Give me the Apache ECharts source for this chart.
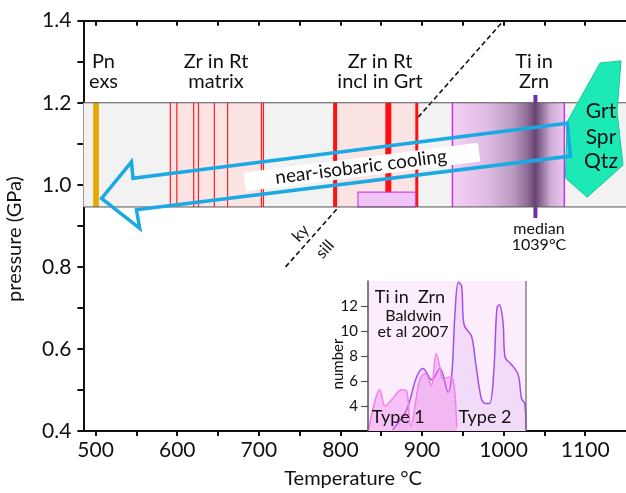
<!DOCTYPE html>
<html><head><meta charset="utf-8">
<script src="https://cdn.jsdelivr.net/npm/echarts@6/dist/echarts.min.js"></script>
<style>html,body{margin:0;padding:0;background:#fff}#c{width:626px;height:493px}</style>
</head><body><div id="c"></div>
<script>
// ---------- data ----------
const xTickValues = [500,550,600,650,700,750,800,850,900,950,1000,1050,1100];
const xLabelValues = [500,600,700,800,900,1000,1100];
const yTickValues = [0.4,0.5,0.6,0.7,0.8,0.9,1.0,1.1,1.2,1.3,1.4];
const yLabelValues = [0.4,0.6,0.8,1.0,1.2,1.4];
const bandP = [0.946, 1.2];
const pnExsT = [497, 504];
const zrMatrixT = [591, 708];
const zrMatrixLinesT = [591.5, 599.5, 620.2, 626, 645.5, 661.7, 703.2, 705.6];
const zrInclT = [793, 894];
const zrInclLinesT = [793.5, 858.7, 893.6];
const inclBoxT = [821.5, 892];
const inclBoxP = [0.946, 0.982];
const tiZrnT = [937.3, 1074.4];
const medianT = 1039;
const medianP = [0.919, 1.219];
const kySillT = [732.8, 1000];
const kySillP = [0.80, 1.40];
const grtSprQtzT = [1118.3, 1143.9, 1139, 1146.3, 1102.4, 1075.6, 1078];
const grtSprQtzP = [1.297, 1.302, 1.178, 1.048, 0.970, 1.017, 1.154];
const arrowT = [507.3, 543.9, 545.8, 1078, 1082, 550, 554];
const arrowP = [0.967, 1.056, 1.016, 1.150, 1.070, 0.939, 0.894];
const type1T = [833, 846.5, 852.6, 860.8, 873, 879, 884, 895, 902, 909, 915, 919.6, 923.6, 929.7, 935.8, 940];
const type1N = [2.2, 5.3, 4.0, 4.5, 5.3, 5.2, 2.4, 6.1, 6.6, 5.6, 8.2, 7.1, 6.1, 6.3, 6.1, 2.3];
const type2T = [862, 879, 891, 899, 909.5, 919.6, 929.5, 934, 938, 942, 946, 949, 958, 963, 970, 975, 980, 985, 989, 992, 996.5, 999, 1007, 1015, 1019, 1023, 1024.5];
const type2N = [2.1, 3.7, 6.3, 7.0, 6.1, 7.0, 5.1, 6.5, 11.5, 13.9, 13.6, 10.5, 9.6, 7.5, 4.6, 4.2, 4.2, 6.5, 11.8, 12.1, 10.7, 7.9, 7.3, 6.5, 4.6, 4.2, 2.1];
const insetTicks = [4, 6, 8, 10, 12];
const insetRangeT = [831.9, 1024.5];
const insetRangeN = [2, 14];

// ---------- styles ----------
const FONT = 'Lato';
const TXT = '#111';
const inclLineWidths = [4, 6, 3];

const chart = echarts.init(document.getElementById('c'), null, {renderer: 'canvas'});

function rectShape(api, x0, x1, y0, y1) {
  const a = api.coord([x0, y1]), b = api.coord([x1, y0]);
  return {x: a[0], y: a[1], width: b[0] - a[0], height: b[1] - a[1]};
}
function rectSeries(name, x0, x1, y0, y1, style, z, xi, yi) {
  return {
    type: 'custom', name, z, xAxisIndex: xi || 0, yAxisIndex: yi || 0,
    data: [[x0, y0, x1, y1]], encode: {x: [0, 2], y: [1, 3]},
    renderItem: (p, api) => ({type: 'rect', shape: rectShape(api, x0, x1, y0, y1), style})
  };
}
function vlineSeries(name, ts, y0, y1, color, widths, z) {
  return {
    type: 'custom', name, z,
    data: ts.map(t => [t, y0, y1]), encode: {x: 0, y: [1, 2]},
    renderItem: (p, api) => {
      const a = api.coord([api.value(0), api.value(1)]);
      const b = api.coord([api.value(0), api.value(2)]);
      const w = Array.isArray(widths) ? widths[p.dataIndex] : widths;
      return {type: 'line', shape: {x1: a[0], y1: a[1], x2: b[0], y2: b[1]}, style: {stroke: color, lineWidth: w}};
    }
  };
}
function polySeries(name, ts, ps, style, z) {
  return {
    type: 'custom', name, z,
    data: ts.map((t, i) => [t, ps[i]]), encode: {x: 0, y: 1},
    renderItem: (p, api) => {
      if (p.dataIndex !== 0) return null;
      const pts = ts.map((t, i) => api.coord([t, ps[i]]));
      return {type: 'polygon', shape: {points: pts}, style};
    }
  };
}

const gradient = new echarts.graphic.LinearGradient(0, 0, 1, 0, [
  {offset: 0, color: '#f5d0f7'},
  {offset: 0.31, color: '#dfbce3'},
  {offset: 0.55, color: '#b898be'},
  {offset: 0.67, color: '#8e6c96'},
  {offset: 0.74, color: '#684474'},
  {offset: 0.81, color: '#9a7aa2'},
  {offset: 0.88, color: '#d0add6'},
  {offset: 1, color: '#ecc6f0'}
]);

function txt(text, x, y, size, extra) {
  return Object.assign({
    type: 'text', x, y, z: 100,
    style: {text, x: 0, y: 0, fill: TXT, fontSize: size, fontFamily: FONT, textAlign: 'center', textVerticalAlign: 'middle', lineHeight: size}
  }, extra || {});
}

const series = [
  rectSeries('band', 485, 1150, bandP[0], bandP[1], {fill: '#f2f2f2'}, 1),
  {type: 'line', name: 'ky-sill', z: 2, data: kySillT.map((t, i) => [t, kySillP[i]]), symbol: 'none',
   lineStyle: {color: '#111', width: 1.6, type: [5, 3]}, silent: true},
  vlineSeries('median', [medianT], medianP[0], medianP[1], '#7030a0', 4, 3),
  rectSeries('zrMatrix', zrMatrixT[0], zrMatrixT[1], bandP[0], bandP[1], {fill: '#fde4e4'}, 4),
  rectSeries('zrIncl', zrInclT[0], zrInclT[1], bandP[0], bandP[1], {fill: '#fde4e4'}, 4),
  rectSeries('tiZrn', tiZrnT[0], tiZrnT[1], bandP[0], bandP[1], {fill: gradient}, 4),
  vlineSeries('tiZrnEdges', tiZrnT, bandP[0], bandP[1], '#c535e8', 1.5, 5),
  vlineSeries('zrMatrixLines', zrMatrixLinesT, bandP[0], bandP[1], '#ff2020', 1.2, 5),
  vlineSeries('zrInclLines', zrInclLinesT, bandP[0], bandP[1], '#ff1010', inclLineWidths, 5),
  rectSeries('inclBox', inclBoxT[0], inclBoxT[1], inclBoxP[0], inclBoxP[1], {fill: '#f0c4f5', stroke: '#cc44e6', lineWidth: 1.2}, 6),
  rectSeries('pnExs', pnExsT[0], pnExsT[1], bandP[0], bandP[1], {fill: '#e6a800'}, 6),
  {type: 'custom', name: 'bandEdges', z: 7, data: bandP.map(p => [485, p, 1150]), encode: {x: [0, 2], y: 1},
   renderItem: (p, api) => {
     const a = api.coord([api.value(0), api.value(1)]), b = api.coord([api.value(2), api.value(1)]);
     return {type: 'line', shape: {x1: a[0], y1: a[1], x2: b[0], y2: b[1]}, style: {stroke: '#555', lineWidth: 1}};
   }},
  polySeries('grtSprQtz', grtSprQtzT, grtSprQtzP, {fill: '#1de9b6', stroke: '#13c995', lineWidth: 1}, 8),
  polySeries('cooling', arrowT, arrowP, {fill: 'none', stroke: '#1ba9e3', lineWidth: 3.5, lineJoin: 'miter'}, 9),
  // inset
  rectSeries('insetBg', insetRangeT[0], insetRangeT[1], insetRangeN[0], insetRangeN[1], {fill: '#fcedfc'}, 10, 2, 1),
  {type: 'custom', name: 'insetRight', z: 13, xAxisIndex: 2, yAxisIndex: 1, data: [[insetRangeT[1], insetRangeN[0], insetRangeN[1]]], encode: {x: 0, y: [1, 2]},
   renderItem: (p, api) => {
     const a = api.coord([api.value(0), api.value(1)]), b = api.coord([api.value(0), api.value(2)]);
     return {type: 'line', shape: {x1: a[0], y1: a[1], x2: b[0], y2: b[1]}, style: {stroke: '#666', lineWidth: 1.2}};
   }},
  {type: 'line', name: 'Type 2', z: 11, xAxisIndex: 2, yAxisIndex: 1, data: type2T.map((t, i) => [t, type2N[i]]),
   smooth: 0.35, symbol: 'none', lineStyle: {color: '#a64ee8', width: 1.5},
   areaStyle: {color: 'rgba(215,165,240,0.35)', origin: 'start'}},
  {type: 'line', name: 'Type 1', z: 12, xAxisIndex: 2, yAxisIndex: 1, data: type1T.map((t, i) => [t, type1N[i]]),
   smooth: 0.35, symbol: 'none', lineStyle: {color: '#f57ef0', width: 1.5},
   areaStyle: {color: 'rgba(240,120,230,0.5)', origin: 'start'}}
];

const axisLineStyle = {color: '#111', width: 2};
const option = {
  animation: false,
  backgroundColor: '#fff',
  grid: [
    {left: 83.4, top: 20.7, width: 545.6, height: 410.3},
    {left: 368, top: 281, width: 158, height: 150}
  ],
  xAxis: [
    {type: 'value', gridIndex: 0, min: 485, max: 1150, position: 'bottom',
     axisLine: {show: true, onZero: false, lineStyle: axisLineStyle},
     axisTick: {show: true, customValues: xTickValues, length: 5, lineStyle: axisLineStyle},
     axisLabel: {customValues: xLabelValues, formatter: v => String(v), fontSize: 21, fontFamily: FONT, color: TXT, margin: 9},
     splitLine: {show: false}},
    {type: 'value', gridIndex: 0, min: 485, max: 1150, position: 'top',
     axisLine: {show: true, onZero: false, lineStyle: axisLineStyle},
     axisTick: {show: true, inside: true, customValues: xTickValues, length: 5, lineStyle: axisLineStyle},
     axisLabel: {show: false}, splitLine: {show: false}},
    {type: 'value', gridIndex: 1, min: insetRangeT[0], max: insetRangeT[1], show: false}
  ],
  yAxis: [
    {type: 'value', gridIndex: 0, min: 0.4, max: 1.4,
     axisLine: {show: true, onZero: false, lineStyle: axisLineStyle},
     axisTick: {show: true, customValues: yTickValues, length: 6, lineStyle: axisLineStyle},
     axisLabel: {customValues: yLabelValues, formatter: v => v.toFixed(1), fontSize: 21, fontFamily: FONT, color: TXT, margin: 12},
     splitLine: {show: false}},
    {type: 'value', gridIndex: 1, min: insetRangeN[0], max: insetRangeN[1],
     axisLine: {show: true, onZero: false, lineStyle: {color: '#555', width: 1.5}},
     axisTick: {show: true, customValues: insetTicks, length: 7, lineStyle: {color: '#555', width: 1.2}},
     axisLabel: {customValues: insetTicks, formatter: v => String(v), fontSize: 15, fontFamily: FONT, color: TXT, margin: 10},
     splitLine: {show: false}, z: 14}
  ],
  series,
  graphic: [
    txt('Pn\nexs', 103.5, 71.7, 20, {style: {text: 'Pn\nexs', x: 0, y: 0, fill: TXT, fontSize: 20, fontFamily: FONT, textAlign: 'center', textVerticalAlign: 'middle', lineHeight: 20}}),
    txt('Zr in Rt\nmatrix', 216, 71.7, 20),
    txt('Zr in Rt\nincl in Grt', 380, 71.7, 20),
    txt('Ti in\nZrn', 534, 71.7, 20),
    txt('Grt', 601, 111.5, 21),
    txt('Spr', 601, 137.5, 21),
    txt('Qtz', 601, 161.5, 21),
    txt('median\n1039°C', 539, 237, 16),
    txt('ky', 300.7, 233.3, 16, {rotation: 0.84}),
    txt('sill', 325, 249.3, 16, {rotation: 0.84}),
    {type: 'rect', x: 362, y: 167, rotation: 0.126, z: 99, shape: {x: -118, y: -9.5, width: 236, height: 19}, style: {fill: '#fff'}},
    txt('near-isobaric cooling', 361, 167, 19, {rotation: 0.126}),
    txt('Temperature °C', 353, 479, 20),
    txt('pressure (GPa)', 15, 239, 20, {rotation: Math.PI / 2}),
    txt('Ti in  Zrn', 410, 296.7, 18),
    txt('Baldwin', 413.3, 316, 16),
    txt('et al 2007', 413, 332, 16),
    txt('Type 1', 398.3, 417, 18),
    txt('Type 2', 485, 417, 18),
    txt('number', 338, 364, 15, {rotation: Math.PI / 2})
  ]
};
chart.setOption(option);
</script>
</body></html>
